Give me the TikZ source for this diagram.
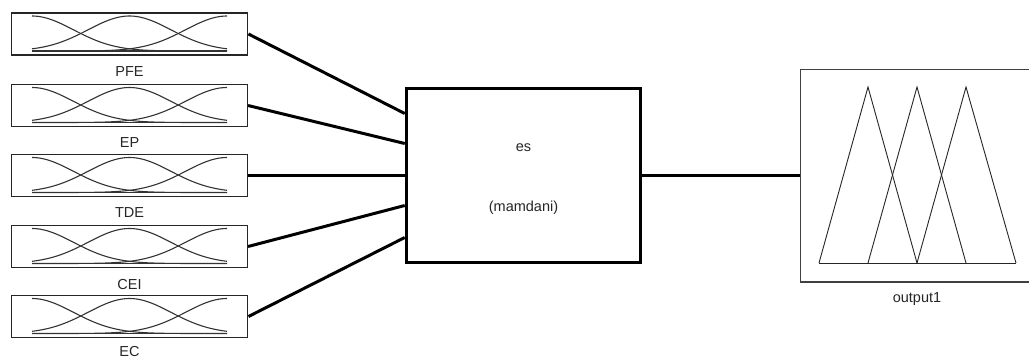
\documentclass[tikz,border=0pt]{standalone}
\usepackage{fontspec}
\setmainfont{Liberation Sans}
\usetikzlibrary{calc}

% Three Gaussian membership functions with a baseline, drawn around the centre of an input box
\newcommand\gaussmfs[1]{%
  \begin{scope}[shift={(#1.center)}]
    \draw[mfline] (-97.5,17) -- (97.5,17);
    \draw[mfline,domain=-97.5:97.5,samples=70,smooth] plot (\x,{17-35*exp(-0.5*((\x+97.5)/41.4)^2)});
    \draw[mfline,domain=-97.5:97.5,samples=70,smooth] plot (\x,{17-35*exp(-0.5*((\x)/41.4)^2)});
    \draw[mfline,domain=-97.5:97.5,samples=70,smooth] plot (\x,{17-35*exp(-0.5*((\x-97.5)/41.4)^2)});
  \end{scope}}

\begin{document}
\begin{tikzpicture}[x=1pt,y=-1pt,
  inbox/.style={draw=black!85,line width=1.1pt,minimum width=236pt,minimum height=42pt,inner sep=0pt},
  selbox/.style={inbox,line width=1.9pt},
  mfline/.style={draw=black!80,line width=1.1pt},
  lbl/.style={font=\fontsize{14.5}{16}\selectfont,text=black!85,inner sep=0pt},
  wire/.style={line width=3pt,draw=black},
  fisbox/.style={draw=black,line width=3.5pt,minimum width=234pt,minimum height=174pt,inner sep=0pt},
  outbox/.style={draw=black!75,line width=1pt,minimum width=240pt,minimum height=212pt,inner sep=0pt},
  tri/.style={draw=black!85,line width=0.9pt,line join=miter}]

\useasboundingbox (0,0) rectangle (1029,360);
\clip (0,0) rectangle (1029,360);
\fill[white] (0,0) rectangle (1029,360);

% input variables
\node[selbox] (pfe) at (129.5,34)    {};
\node[inbox]  (ep)  at (129.5,105.5) {};
\node[inbox,line width=1.4pt] (tde) at (129.5,175.5) {};
\node[inbox]  (cei) at (129.5,246.5) {};
\node[selbox] (ec)  at (129.5,316.5) {};

\foreach \v in {pfe,ep,tde,cei,ec}{\gaussmfs{\v}}

\node[lbl] (pfelbl) at (129.5,72)  {PFE};
\node[lbl] (eplbl)  at (129.5,143) {EP};
\node[lbl] (tdelbl) at (129.5,213) {TDE};
\node[lbl] (ceilbl) at (129.5,285) {CEI};
\node[lbl] (eclbl)  at (129.5,352) {EC};

% inference system
\node[fisbox] (es) at (523.5,175.5) {};
\node[lbl] (esname) at ($(es.center)+(0,-28)$) {es};
\node[lbl] (estype) at ($(es.center)+(0,32)$) {(mamdani)};

\coordinate (in1) at ($(es.west)+(0,-62)$);
\coordinate (in2) at ($(es.west)+(0,-32)$);
\coordinate (in3) at (es.west);
\coordinate (in4) at ($(es.west)+(0,30)$);
\coordinate (in5) at ($(es.west)+(0,62)$);

\draw[wire] (pfe.east) -- (in1);
\draw[wire] (ep.east)  -- (in2);
\draw[wire] (tde.east) -- (in3);
\draw[wire] (cei.east) -- (in4);
\draw[wire] (ec.east)  -- (in5);

% output variable
\node[outbox] (out) at (920,175.5) {};
\draw[black!75,line width=1.6pt] (out.south west) -- (out.south east);
\node[lbl] (outlbl) at (917,299) {output1};
\draw[wire,line width=3.5pt] (es.east) -- (out.west);

\coordinate (b0) at (819,263);
\coordinate (b4) at (1016,263);
\draw[tri] (b0) -- (b4);
\draw[tri] (819,263) -- (868,87) -- (917,263);
\draw[tri] (868,263) -- (917,87) -- (966,263);
\draw[tri] (917,263) -- (966,87) -- (1016,263);
\end{tikzpicture}
\end{document}
